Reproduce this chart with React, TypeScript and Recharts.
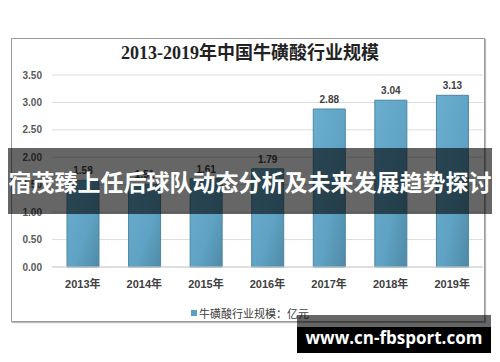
import React from 'react';
import { BarChart, Bar, XAxis, YAxis, CartesianGrid, LabelList } from 'recharts';

const years = ['2013年', '2014年', '2015年', '2016年', '2017年', '2018年', '2019年'];
const values = [1.58, 1.51, 1.61, 1.79, 2.88, 3.04, 3.13];
const yTicks = [0, 0.5, 1, 1.5, 2, 2.5, 3, 3.5];
const title = '2013-2019年中国牛磺酸行业规模';
const seriesName = '牛磺酸行业规模：亿元';
const bannerText = '宿茂臻上任后球队动态分析及未来发展趋势探讨';
const watermark = 'www.cn-fbsport.com';

const data = years.map((y, i) => ({ year: y, value: values[i] }));

export default function App() {
  return (
    <div style={{ position: 'fixed', left: 0, top: 0, width: 500, height: 362, background: '#fff', overflow: 'hidden' }}>
      <div style={{ position: 'absolute', left: 11, top: 38, width: 472, height: 282, border: '1px solid #9a9a9a', boxShadow: '1px 1px 1px #bbb' }} />
      <div style={{ position: 'absolute', left: 0, top: 41, width: 500, textAlign: 'center', fontFamily: '"Liberation Serif", "Noto Sans CJK SC", serif', fontWeight: 'bold', fontSize: 18, color: '#222', lineHeight: '24px' }}>
        {title}
      </div>
      <div style={{ position: 'absolute', left: 0, top: 0 }}>
        <BarChart width={500} height={362} data={data} margin={{ top: 75, right: 17, left: 12, bottom: 70 }}>
          <defs>
            <linearGradient id="barGrad" x1="0" y1="0" x2="1" y2="1">
              <stop offset="0%" stopColor="#6aaed0" />
              <stop offset="60%" stopColor="#5fa2c3" />
              <stop offset="100%" stopColor="#4f8aa6" />
            </linearGradient>
          </defs>
          <CartesianGrid vertical={false} stroke="#dcdcdc" />
          <XAxis dataKey="year" height={25} axisLine={{ stroke: '#d0d0d0' }} tickLine={false} tickMargin={7}
            tick={{ fontSize: 11, fontWeight: 'bold', fill: '#404040', fontFamily: '"Liberation Sans", "Noto Sans CJK SC", sans-serif' }} interval={0} />
          <YAxis domain={[0, 3.5]} ticks={yTicks} width={40} axisLine={false} tickLine={false} tickMargin={4}
            tickFormatter={(v: number) => v.toFixed(2)}
            tick={{ fontSize: 10, fontWeight: 'bold', fill: '#595959', fontFamily: '"Liberation Sans", sans-serif' }} />
          <Bar dataKey="value" name={seriesName} barSize={32} fill="url(#barGrad)" stroke="#4d86a2" strokeWidth={1} isAnimationActive={false}>
            <LabelList dataKey="value" position="top" offset={6} formatter={(v: number) => v.toFixed(2)}
              style={{ fontSize: 10, fontWeight: 'bold', fill: '#404040', fontFamily: '"Liberation Sans", sans-serif' }} />
          </Bar>
        </BarChart>
      </div>
      <div style={{ position: 'absolute', left: 0, top: 304, width: 500, textAlign: 'center', fontFamily: '"Noto Sans CJK SC", sans-serif', fontSize: 11, color: '#404040', lineHeight: '14px' }}>
        <span style={{ display: 'inline-block', width: 6, height: 6, background: '#5b9fc2', marginRight: 2, verticalAlign: 'middle' }} />
        <span style={{ verticalAlign: 'middle' }}>{seriesName}</span>
      </div>
      <div style={{ position: 'absolute', left: 8, top: 148, width: 484, height: 66, background: 'rgba(0,0,0,0.6)', color: '#fff', textAlign: 'center', fontFamily: '"Noto Sans CJK SC", sans-serif', fontWeight: 'bold', fontSize: 23, lineHeight: '66px', whiteSpace: 'nowrap' }}>
        {bannerText}
      </div>
      <div style={{ position: 'absolute', left: 297, top: 315, width: 194, height: 12, background: 'rgba(0,0,0,0.6)' }} />
      <div style={{ position: 'absolute', left: 297, top: 327, width: 194, height: 26, background: '#000', color: '#fff', textAlign: 'center', fontFamily: '"Open Sans", sans-serif', fontWeight: 'bold', fontSize: 17, lineHeight: '22px', whiteSpace: 'nowrap' }}>
        {watermark}
      </div>
    </div>
  );
}
